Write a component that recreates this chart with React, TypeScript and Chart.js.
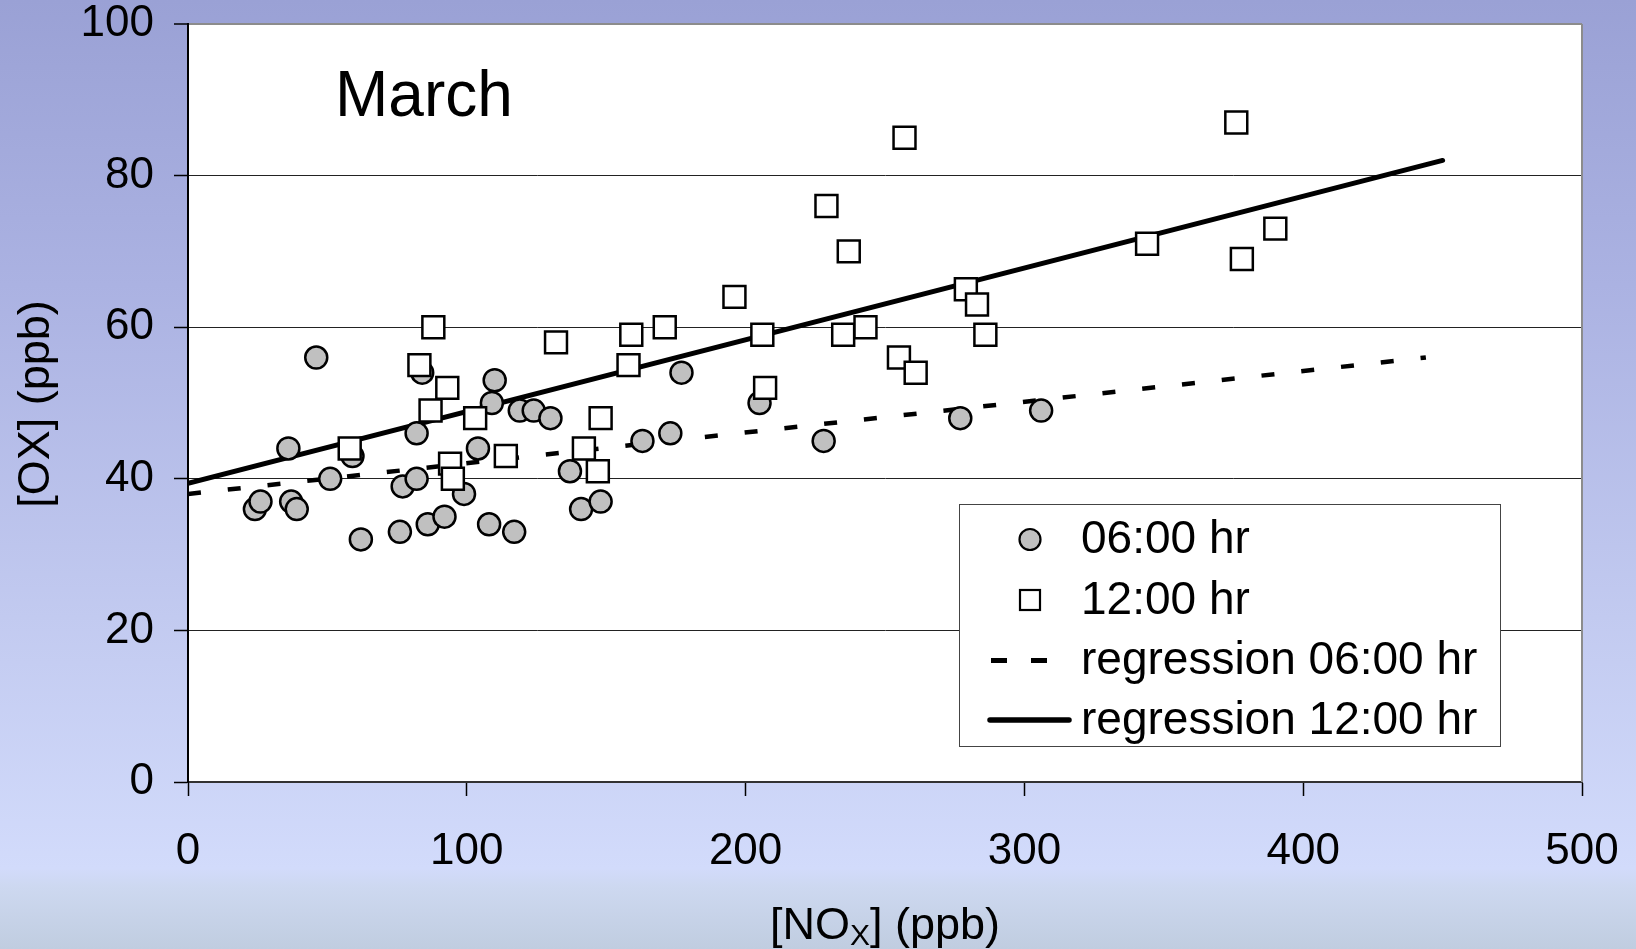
import React, { useEffect, useRef } from "react";
import { Chart, registerables } from "chart.js";

Chart.register(...registerables);

// 06:00 hr observations
const x06 = [24, 26, 36, 37, 39, 46, 51, 59, 62, 76, 77, 82, 82, 84, 86, 92, 99, 104, 108, 109, 110, 117, 119, 124, 130, 137, 141, 148, 163, 173, 177, 205, 228, 277, 306];
const y06 = [36, 37, 44, 37, 36, 56, 40, 43, 32, 33, 39, 46, 40, 54, 34, 35, 38, 44, 34, 50, 53, 33, 49, 49, 48, 41, 36, 37, 45, 46, 54, 50, 45, 48, 49];

// 12:00 hr observations
const x12 = [58, 83, 88, 87, 93, 94, 95, 103, 114, 132, 142, 147, 148, 158, 159, 171, 196, 206, 207, 229, 235, 237, 243, 255, 257, 261, 279, 283, 286, 344, 376, 378, 390];
const y12 = [44, 55, 60, 49, 52, 42, 40, 48, 43, 58, 44, 41, 48, 55, 59, 60, 64, 59, 52, 76, 59, 70, 60, 56, 85, 54, 65, 63, 59, 71, 87, 69, 73];

// regression line end points
const reg06X = [0, 444];
const reg06Y = [38, 56];
const reg12X = [0, 450];
const reg12Y = [39.4, 82];

const legendLabels = ["06:00 hr", "12:00 hr", "regression 06:00 hr", "regression 12:00 hr"];
const chartTitle = "March";
const yTitle = "[OX] (ppb)";
const xTitleMain = "[NO";
const xTitleSub = "X";
const xTitleRest = "] (ppb)";

const FONT = "'Liberation Sans', Arial, sans-serif";

const pts = (xs: number[], ys: number[]) => xs.map((x, i) => ({ x, y: ys[i] }));

const zeroPad = (s: any) => {
  s.paddingTop = 0;
  s.paddingBottom = 0;
  s.paddingLeft = 0;
  s.paddingRight = 0;
};

const decor = {
  id: "decor",
  beforeDraw(chart: any) {
    const { ctx, chartArea } = chart;
    const { left, top, right, bottom } = chartArea;
    ctx.save();
    ctx.fillStyle = "#ffffff";
    ctx.fillRect(left, top, right - left, bottom - top);
    ctx.restore();
  },
  afterDraw(chart: any) {
    const { ctx, chartArea } = chart;
    const { top, right, bottom } = chartArea;
    ctx.save();
    // right border
    ctx.strokeStyle = "#8c8c8c";
    ctx.lineWidth = 2;
    ctx.beginPath();
    ctx.moveTo(right, top);
    ctx.lineTo(right, bottom);
    ctx.stroke();

    ctx.fillStyle = "#000";
    // March label
    ctx.font = `64px ${FONT}`;
    ctx.textAlign = "left";
    ctx.textBaseline = "alphabetic";
    ctx.fillText(chartTitle, 335, 116);

    // y title
    ctx.save();
    ctx.translate(37, 404);
    ctx.rotate(-Math.PI / 2);
    ctx.font = `45px ${FONT}`;
    ctx.textAlign = "center";
    ctx.textBaseline = "middle";
    ctx.fillText(yTitle, 0, 0);
    ctx.restore();

    // x title with subscript
    ctx.font = `45px ${FONT}`;
    const w1 = ctx.measureText(xTitleMain).width;
    const w3 = ctx.measureText(xTitleRest).width;
    ctx.font = `30px ${FONT}`;
    const w2 = ctx.measureText(xTitleSub).width;
    const total = w1 + w2 + w3;
    let x = 885 - total / 2;
    const base = 939;
    ctx.textAlign = "left";
    ctx.textBaseline = "alphabetic";
    ctx.font = `45px ${FONT}`;
    ctx.fillText(xTitleMain, x, base);
    x += w1;
    ctx.font = `30px ${FONT}`;
    ctx.fillText(xTitleSub, x, base + 6);
    x += w2;
    ctx.font = `45px ${FONT}`;
    ctx.fillText(xTitleRest, x, base);

    // legend
    const bx = 959.5, by = 504.5, bw = 541, bh = 242;
    ctx.fillStyle = "#ffffff";
    ctx.fillRect(bx, by, bw, bh);
    ctx.strokeStyle = "#444";
    ctx.lineWidth = 1;
    ctx.strokeRect(bx, by, bw, bh);
    const rows = [539.5, 600, 660.5, 720];
    const sx = 1030;
    // circle
    ctx.beginPath();
    ctx.arc(sx, rows[0], 10.5, 0, Math.PI * 2);
    ctx.fillStyle = "#c0c0c0";
    ctx.fill();
    ctx.strokeStyle = "#000";
    ctx.lineWidth = 2.2;
    ctx.stroke();
    // square
    ctx.fillStyle = "#fff";
    ctx.fillRect(sx - 10, rows[1] - 10, 20, 20);
    ctx.strokeRect(sx - 10, rows[1] - 10, 20, 20);
    // dashes
    ctx.fillStyle = "#000";
    ctx.fillRect(991, rows[2] - 2.5, 16, 5);
    ctx.fillRect(1031, rows[2] - 2.5, 16, 5);
    // solid
    ctx.beginPath();
    ctx.lineCap = "round";
    ctx.lineWidth = 5.5;
    ctx.moveTo(990, rows[3]);
    ctx.lineTo(1069, rows[3]);
    ctx.stroke();
    // texts
    ctx.font = `46px ${FONT}`;
    ctx.textAlign = "left";
    ctx.textBaseline = "middle";
    ctx.fillStyle = "#000";
    legendLabels.forEach((t, i) => ctx.fillText(t, 1081, rows[i] + 1));
    ctx.restore();
  },
};

export default function App() {
  const ref = useRef<HTMLCanvasElement>(null);
  useEffect(() => {
    document.body.style.margin = "0";
    const canvas = ref.current!;
    const chart = new Chart(canvas, {
      type: "scatter",
      data: {
        datasets: [
          {
            label: legendLabels[1],
            data: pts(x12, y12),
            pointStyle: "rect",
            pointRadius: 15.5,
            pointBackgroundColor: "#ffffff",
            pointBorderColor: "#000000",
            pointBorderWidth: 2.5,
            showLine: false,
          },
          {
            label: legendLabels[0],
            data: pts(x06, y06),
            pointStyle: "circle",
            pointRadius: 11,
            pointBackgroundColor: "#c0c0c0",
            pointBorderColor: "#000000",
            pointBorderWidth: 2.5,
            showLine: false,
          },
          {
            label: legendLabels[2],
            data: pts(reg06X, reg06Y),
            showLine: true,
            pointRadius: 0,
            borderColor: "#000",
            borderWidth: 4.5,
            borderDash: [13, 27],
            borderCapStyle: "butt",
            fill: false,
          },
          {
            label: legendLabels[3],
            data: pts(reg12X, reg12Y),
            showLine: true,
            pointRadius: 0,
            borderColor: "#000",
            borderWidth: 5,
            borderCapStyle: "round",
            fill: false,
          },
        ],
      },
      options: {
        animation: false,
        responsive: false,
        devicePixelRatio: 1,
        layout: { padding: { top: 24, right: 54, left: 0, bottom: 0 } },
        plugins: { legend: { display: false }, tooltip: { enabled: false } },
        scales: {
          x: {
            type: "linear",
            min: 0,
            max: 500,
            afterFit: (s: any) => { s.height = 167; zeroPad(s); },
            ticks: {
              stepSize: 100,
              color: "#000",
              padding: 34,
              font: { family: FONT, size: 44, lineHeight: 1 },
            },
            grid: {
              drawOnChartArea: false,
              drawTicks: true,
              tickLength: 14,
              tickColor: "#000",
              tickWidth: 1.5,
            },
            border: { color: "#333", width: 2 },
          },
          y: {
            type: "linear",
            min: 0,
            max: 100,
            afterFit: (s: any) => { s.width = 188; zeroPad(s); },
            ticks: {
              stepSize: 20,
              color: "#000",
              padding: 20,
              font: { family: FONT, size: 44, lineHeight: 1 },
            },
            grid: {
              color: (c: any) => (c.tick && c.tick.value === 100 ? "#8c8c8c" : "#222"),
              lineWidth: (c: any) => (c.tick && c.tick.value === 100 ? 2 : 1),
              drawTicks: true,
              tickLength: 14,
              tickColor: "#000",
              tickWidth: 1.5,
            },
            border: { color: "#000", width: 2 },
          },
        },
      },
      plugins: [decor],
    });
    return () => chart.destroy();
  }, []);

  return (
    <div
      style={{
        position: "fixed",
        left: 0,
        top: 0,
        width: 1636,
        height: 949,
        background:
          "linear-gradient(to bottom, #9aa1d5 0%, #abb2e2 30%, #c2caf0 65%, #d2dbfb 91.5%, #cdd8f0 93.5%, #c0cde0 100%)",
      }}
    >
      <canvas ref={ref} width={1636} height={949} style={{ display: "block", width: 1636, height: 949 }} />
    </div>
  );
}
